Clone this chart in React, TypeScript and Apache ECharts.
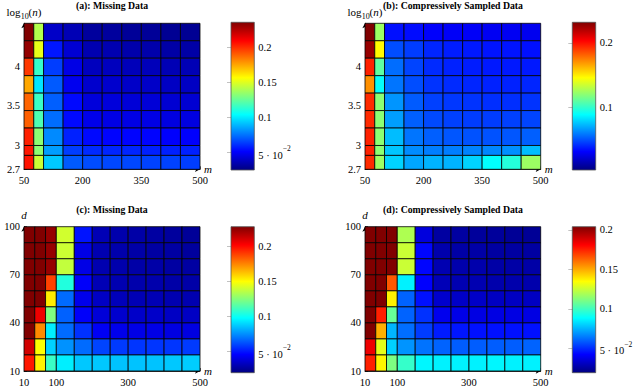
import { useEffect, useRef } from 'react';
import * as echarts from 'echarts';

const FONT = '"Liberation Serif", "DejaVu Serif", serif';

// ---- cell edges ----
const mEdgesTop = [50, 75, 100, 150, 200, 250, 300, 350, 400, 450, 500];
const log10nEdges = [2.7, 2.875, 3.0, 3.22, 3.44, 3.66, 3.88, 4.1, 4.32, 4.54];
const mEdgesBottom = [10, 40, 70, 100, 150, 200, 250, 300, 350, 400, 450, 500];
const dEdges = [10, 20, 30, 40, 50, 60, 70, 80, 90, 100];

// ---- error values, rows listed from top (largest y) to bottom ----
const errA = [
  [0.236, 0.141, 0.040, 0.036, 0.031, 0.031, 0.030, 0.030, 0.029, 0.029],
  [0.232, 0.152, 0.056, 0.042, 0.035, 0.035, 0.034, 0.034, 0.033, 0.033],
  [0.198, 0.115, 0.064, 0.046, 0.038, 0.038, 0.037, 0.037, 0.036, 0.036],
  [0.175, 0.099, 0.070, 0.048, 0.041, 0.041, 0.040, 0.040, 0.039, 0.039],
  [0.189, 0.116, 0.071, 0.053, 0.044, 0.044, 0.043, 0.043, 0.042, 0.042],
  [0.190, 0.120, 0.074, 0.053, 0.047, 0.046, 0.046, 0.046, 0.045, 0.045],
  [0.203, 0.133, 0.080, 0.058, 0.053, 0.052, 0.052, 0.052, 0.051, 0.051],
  [0.205, 0.133, 0.084, 0.064, 0.060, 0.059, 0.059, 0.058, 0.058, 0.058],
  [0.206, 0.146, 0.093, 0.070, 0.067, 0.066, 0.066, 0.065, 0.065, 0.064],
];
const errB = [
  [0.232, 0.124, 0.035, 0.034, 0.031, 0.030, 0.030, 0.029, 0.029, 0.028],
  [0.227, 0.147, 0.049, 0.045, 0.040, 0.038, 0.037, 0.036, 0.036, 0.035],
  [0.196, 0.110, 0.056, 0.047, 0.041, 0.039, 0.038, 0.037, 0.037, 0.037],
  [0.171, 0.090, 0.058, 0.049, 0.043, 0.041, 0.040, 0.039, 0.039, 0.040],
  [0.194, 0.120, 0.065, 0.052, 0.046, 0.044, 0.043, 0.042, 0.042, 0.043],
  [0.194, 0.120, 0.067, 0.053, 0.048, 0.046, 0.045, 0.045, 0.046, 0.047],
  [0.196, 0.120, 0.074, 0.058, 0.053, 0.051, 0.050, 0.050, 0.051, 0.053],
  [0.196, 0.120, 0.076, 0.063, 0.060, 0.060, 0.061, 0.062, 0.064, 0.074],
  [0.194, 0.124, 0.079, 0.069, 0.072, 0.072, 0.079, 0.089, 0.097, 0.124],
];
const errC = [
  [0.229, 0.229, 0.224, 0.141, 0.050, 0.031, 0.029, 0.028, 0.027, 0.026, 0.025],
  [0.229, 0.229, 0.224, 0.140, 0.041, 0.030, 0.029, 0.028, 0.027, 0.027, 0.026],
  [0.229, 0.229, 0.224, 0.138, 0.041, 0.030, 0.029, 0.028, 0.028, 0.027, 0.027],
  [0.229, 0.229, 0.189, 0.105, 0.045, 0.031, 0.030, 0.029, 0.029, 0.028, 0.028],
  [0.229, 0.229, 0.154, 0.068, 0.042, 0.034, 0.032, 0.031, 0.031, 0.030, 0.030],
  [0.229, 0.206, 0.124, 0.066, 0.045, 0.038, 0.036, 0.035, 0.035, 0.034, 0.034],
  [0.229, 0.174, 0.095, 0.068, 0.056, 0.044, 0.042, 0.041, 0.041, 0.040, 0.040],
  [0.212, 0.150, 0.089, 0.076, 0.068, 0.060, 0.058, 0.057, 0.057, 0.057, 0.058],
  [0.198, 0.153, 0.110, 0.095, 0.087, 0.087, 0.086, 0.086, 0.086, 0.087, 0.088],
];
const errD = [
  [0.204, 0.204, 0.204, 0.120, 0.036, 0.025, 0.025, 0.024, 0.024, 0.023, 0.023],
  [0.204, 0.204, 0.204, 0.125, 0.043, 0.027, 0.026, 0.026, 0.025, 0.025, 0.025],
  [0.204, 0.204, 0.204, 0.125, 0.043, 0.028, 0.027, 0.027, 0.026, 0.026, 0.026],
  [0.204, 0.204, 0.165, 0.086, 0.042, 0.029, 0.028, 0.028, 0.027, 0.027, 0.027],
  [0.204, 0.204, 0.137, 0.060, 0.045, 0.033, 0.032, 0.032, 0.031, 0.031, 0.031],
  [0.204, 0.175, 0.107, 0.060, 0.051, 0.039, 0.038, 0.037, 0.037, 0.037, 0.037],
  [0.204, 0.149, 0.075, 0.062, 0.053, 0.047, 0.046, 0.045, 0.045, 0.045, 0.045],
  [0.184, 0.130, 0.080, 0.069, 0.063, 0.060, 0.059, 0.059, 0.059, 0.059, 0.060],
  [0.175, 0.136, 0.111, 0.098, 0.087, 0.086, 0.086, 0.086, 0.087, 0.086, 0.086],
];

// ---- texts and ticks ----
const panelTitles = [
  '(a): Missing Data',
  '(b): Compressively Sampled Data',
  '(c): Missing Data',
  '(d): Compressively Sampled Data',
];
const xTicksTop = [50, 200, 350, 500];
const yTicksTop = [2.7, 3, 3.5, 4];
const yTickLabelsTop = ['2.7', '3', '3.5', '4'];
const xTicksBottom = [10, 100, 300, 500];
const yTicksBottom = [10, 40, 70, 100];
const cbRangeA = [0.025, 0.236];
const cbRangeB = [0.003, 0.232];
const cbRangeC = [0.02, 0.2286];
const cbRangeD = [0.019, 0.204];
const cbTicks4 = [0.05, 0.1, 0.15, 0.2];
const cbLabels4 = ['{b|5 · 10}{sup|−2}', '0.1', '0.15', '0.2'];
const cbTicks2 = [0.1, 0.2];
const cbLabels2 = ['0.1', '0.2'];

const jetStops = [
  { offset: 0, color: '#000080' },
  { offset: 0.125, color: '#0000ff' },
  { offset: 0.375, color: '#00ffff' },
  { offset: 0.625, color: '#ffff00' },
  { offset: 0.875, color: '#ff0000' },
  { offset: 1, color: '#800000' },
];

function clamp01(v: number) {
  return Math.max(0, Math.min(1, v));
}
function jet(t: number) {
  t = clamp01(t);
  const r = clamp01(Math.min(4 * t - 1.5, -4 * t + 4.5));
  const g = clamp01(Math.min(4 * t - 0.5, -4 * t + 3.5));
  const b = clamp01(Math.min(4 * t + 0.5, -4 * t + 2.5));
  return `rgb(${Math.round(r * 255)},${Math.round(g * 255)},${Math.round(b * 255)})`;
}

function labelFor(v: number, ticks: number[], labels: string[]) {
  let best = 0;
  for (let i = 1; i < ticks.length; i++) {
    if (Math.abs(ticks[i] - v) < Math.abs(ticks[best] - v)) best = i;
  }
  return labels[best];
}

const panels = [
  { xe: mEdgesTop, ye: log10nEdges, vals: errA, range: cbRangeA, xt: xTicksTop, yt: yTicksTop, ytl: yTickLabelsTop, cbt: cbTicks4, cbl: cbLabels4, yname: '{t|log}{s|10}{t|(}{i|n}{t|)}' },
  { xe: mEdgesTop, ye: log10nEdges, vals: errB, range: cbRangeB, xt: xTicksTop, yt: yTicksTop, ytl: yTickLabelsTop, cbt: cbTicks2, cbl: cbLabels2, yname: '{t|log}{s|10}{t|(}{i|n}{t|)}' },
  { xe: mEdgesBottom, ye: dEdges, vals: errC, range: cbRangeC, xt: xTicksBottom, yt: yTicksBottom, ytl: yTicksBottom.map(String), cbt: cbTicks4, cbl: cbLabels4, yname: '{i|d}' },
  { xe: mEdgesBottom, ye: dEdges, vals: errD, range: cbRangeD, xt: xTicksBottom, yt: yTicksBottom, ytl: yTicksBottom.map(String), cbt: cbTicks4, cbl: cbLabels4, yname: '{i|d}' },
];

// layout (pixels)
const layout = [
  { hx: 24, hy: 23.3, hw: 176, hh: 146, cx: 231, cy: 22.3, cw: 23.3, ch: 147.7, tx: 112, ty: 5.5 },
  { hx: 365, hy: 23.3, hw: 175.7, hh: 146, cx: 572.3, cy: 22.3, cw: 23.4, ch: 147.7, tx: 453, ty: 5.5 },
  { hx: 24, hy: 226.7, hw: 176, hh: 146.6, cx: 231, cy: 226.7, cw: 23.3, ch: 146, tx: 112, ty: 209 },
  { hx: 365, hy: 226.7, hw: 175.7, hh: 146.6, cx: 572.3, cy: 226.7, cw: 23.4, ch: 146, tx: 453, ty: 209 },
];

const tickFont = { fontFamily: FONT, fontSize: 10.5, color: '#000' };

function buildOption() {
  const grid: any[] = [];
  const xAxis: any[] = [];
  const yAxis: any[] = [];
  const series: any[] = [];
  const graphic: any[] = [];

  panels.forEach((p, i) => {
    const L = layout[i];
    grid.push({ left: L.hx, top: L.hy, width: L.hw, height: L.hh });
    grid.push({ left: L.cx, top: L.cy, width: L.cw, height: L.ch });

    const xi = xAxis.length;
    xAxis.push({
      type: 'value',
      gridIndex: 2 * i,
      min: p.xe[0],
      max: p.xe[p.xe.length - 1],
      name: 'm',
      nameLocation: 'end',
      nameGap: 4,
      nameTextStyle: { fontFamily: FONT, fontStyle: 'italic', fontSize: 11, color: '#000', verticalAlign: 'middle' },
      axisLine: { show: true, onZero: false, symbol: ['none', 'arrow'], symbolSize: [4, 5], lineStyle: { color: '#000', width: 0.8 } },
      axisTick: { show: true, inside: true, length: 3, customValues: p.xt, lineStyle: { color: '#000', width: 0.6 } },
      axisLabel: { ...tickFont, margin: 6, customValues: p.xt, formatter: (v: number) => String(v) },
      splitLine: { show: false },
    });
    xAxis.push({ type: 'value', gridIndex: 2 * i + 1, min: 0, max: 1, show: false });

    const yi = yAxis.length;
    yAxis.push({
      type: 'value',
      gridIndex: 2 * i,
      min: p.ye[0],
      max: p.ye[p.ye.length - 1],
      name: p.yname,
      nameLocation: 'end',
      nameGap: 3,
      nameTextStyle: {
        fontFamily: FONT,
        fontSize: 11,
        color: '#000',
        rich: {
          t: { fontFamily: FONT, fontSize: 11, color: '#000', lineHeight: 14, verticalAlign: 'top' },
          s: { fontFamily: FONT, fontSize: 8, color: '#000', lineHeight: 8, verticalAlign: 'bottom' },
          i: { fontFamily: FONT, fontSize: 11, fontStyle: 'italic', color: '#000', lineHeight: 14, verticalAlign: 'top' },
        },
      },
      axisLine: { show: true, onZero: false, symbol: ['none', 'arrow'], symbolSize: [4, 5], lineStyle: { color: '#000', width: 0.8 } },
      axisTick: { show: true, inside: true, length: 3, customValues: p.yt, lineStyle: { color: '#000', width: 0.6 } },
      axisLabel: { ...tickFont, margin: 4, customValues: p.yt, formatter: (v: number) => labelFor(v, p.yt, p.ytl) },
      splitLine: { show: false },
    });
    const cbi = yAxis.length;
    yAxis.push({
      type: 'value',
      gridIndex: 2 * i + 1,
      position: 'right',
      min: p.range[0],
      max: p.range[1],
      axisLine: { show: false },
      axisTick: { show: true, inside: true, length: 4, customValues: p.cbt, lineStyle: { color: '#999', width: 0.6 } },
      axisLabel: {
        ...tickFont,
        margin: 4,
        customValues: p.cbt,
        formatter: (v: number) => labelFor(v, p.cbt, p.cbl),
        rich: {
          b: { fontFamily: FONT, fontSize: 10.5, color: '#000', lineHeight: 16, verticalAlign: 'bottom' },
          sup: { fontFamily: FONT, fontSize: 7.5, color: '#000', lineHeight: 8, verticalAlign: 'top' },
        },
      },
      splitLine: { show: false },
    });
    yAxis.push({
      type: 'value',
      gridIndex: 2 * i + 1,
      position: 'left',
      min: p.range[0],
      max: p.range[1],
      axisLine: { show: false },
      axisTick: { show: true, inside: true, length: 4, customValues: p.cbt, lineStyle: { color: '#999', width: 0.6 } },
      axisLabel: { show: false },
      splitLine: { show: false },
    });

    // heatmap cells
    const nRows = p.vals.length;
    const cells: number[][] = [];
    p.vals.forEach((row, r) => {
      const y1 = p.ye[nRows - r];
      const y0 = p.ye[nRows - r - 1];
      row.forEach((v, c) => {
        cells.push([p.xe[c], p.xe[c + 1], y0, y1, v]);
      });
    });
    const [vmin, vmax] = p.range;
    series.push({
      type: 'custom',
      xAxisIndex: xi,
      yAxisIndex: yi,
      encode: { x: [0, 1], y: [2, 3] },
      data: cells,
      renderItem: (params: any, api: any) => {
        const a = api.coord([api.value(0), api.value(3)]);
        const b = api.coord([api.value(1), api.value(2)]);
        const v = api.value(4);
        return {
          type: 'rect',
          shape: { x: a[0], y: a[1], width: b[0] - a[0], height: b[1] - a[1] },
          style: { fill: jet((v - vmin) / (vmax - vmin)), stroke: '#000', lineWidth: 0.8 },
        };
      },
      z: 1,
    });

    // colorbar
    series.push({
      type: 'custom',
      xAxisIndex: xi + 1,
      yAxisIndex: cbi,
      encode: { x: [0, 1], y: [2, 3] },
      data: [[0, 1, vmin, vmax]],
      renderItem: (params: any, api: any) => {
        const a = api.coord([api.value(0), api.value(3)]);
        const b = api.coord([api.value(1), api.value(2)]);
        return {
          type: 'rect',
          shape: { x: a[0], y: a[1], width: b[0] - a[0], height: b[1] - a[1] },
          style: {
            fill: new echarts.graphic.LinearGradient(0, 1, 0, 0, jetStops),
            stroke: '#555',
            lineWidth: 0.8,
          },
        };
      },
      z: 1,
    });

    graphic.push({
      type: 'text',
      x: L.tx,
      y: L.ty,
      style: {
        text: panelTitles[i],
        fontFamily: FONT,
        fontWeight: 'bold',
        fontSize: 9.75,
        fill: '#000',
        align: 'center',
        verticalAlign: 'middle',
      },
    });
  });

  return { animation: false, backgroundColor: '#fff', grid, xAxis, yAxis, series, graphic };
}

export default function App() {
  const ref = useRef<HTMLDivElement>(null);
  useEffect(() => {
    if (!ref.current) return;
    const chart = echarts.init(ref.current, undefined, { renderer: 'svg' });
    chart.setOption(buildOption());
    return () => chart.dispose();
  }, []);
  return <div ref={ref} style={{ position: 'fixed', left: 0, top: 0, width: 640, height: 388 }} />;
}
